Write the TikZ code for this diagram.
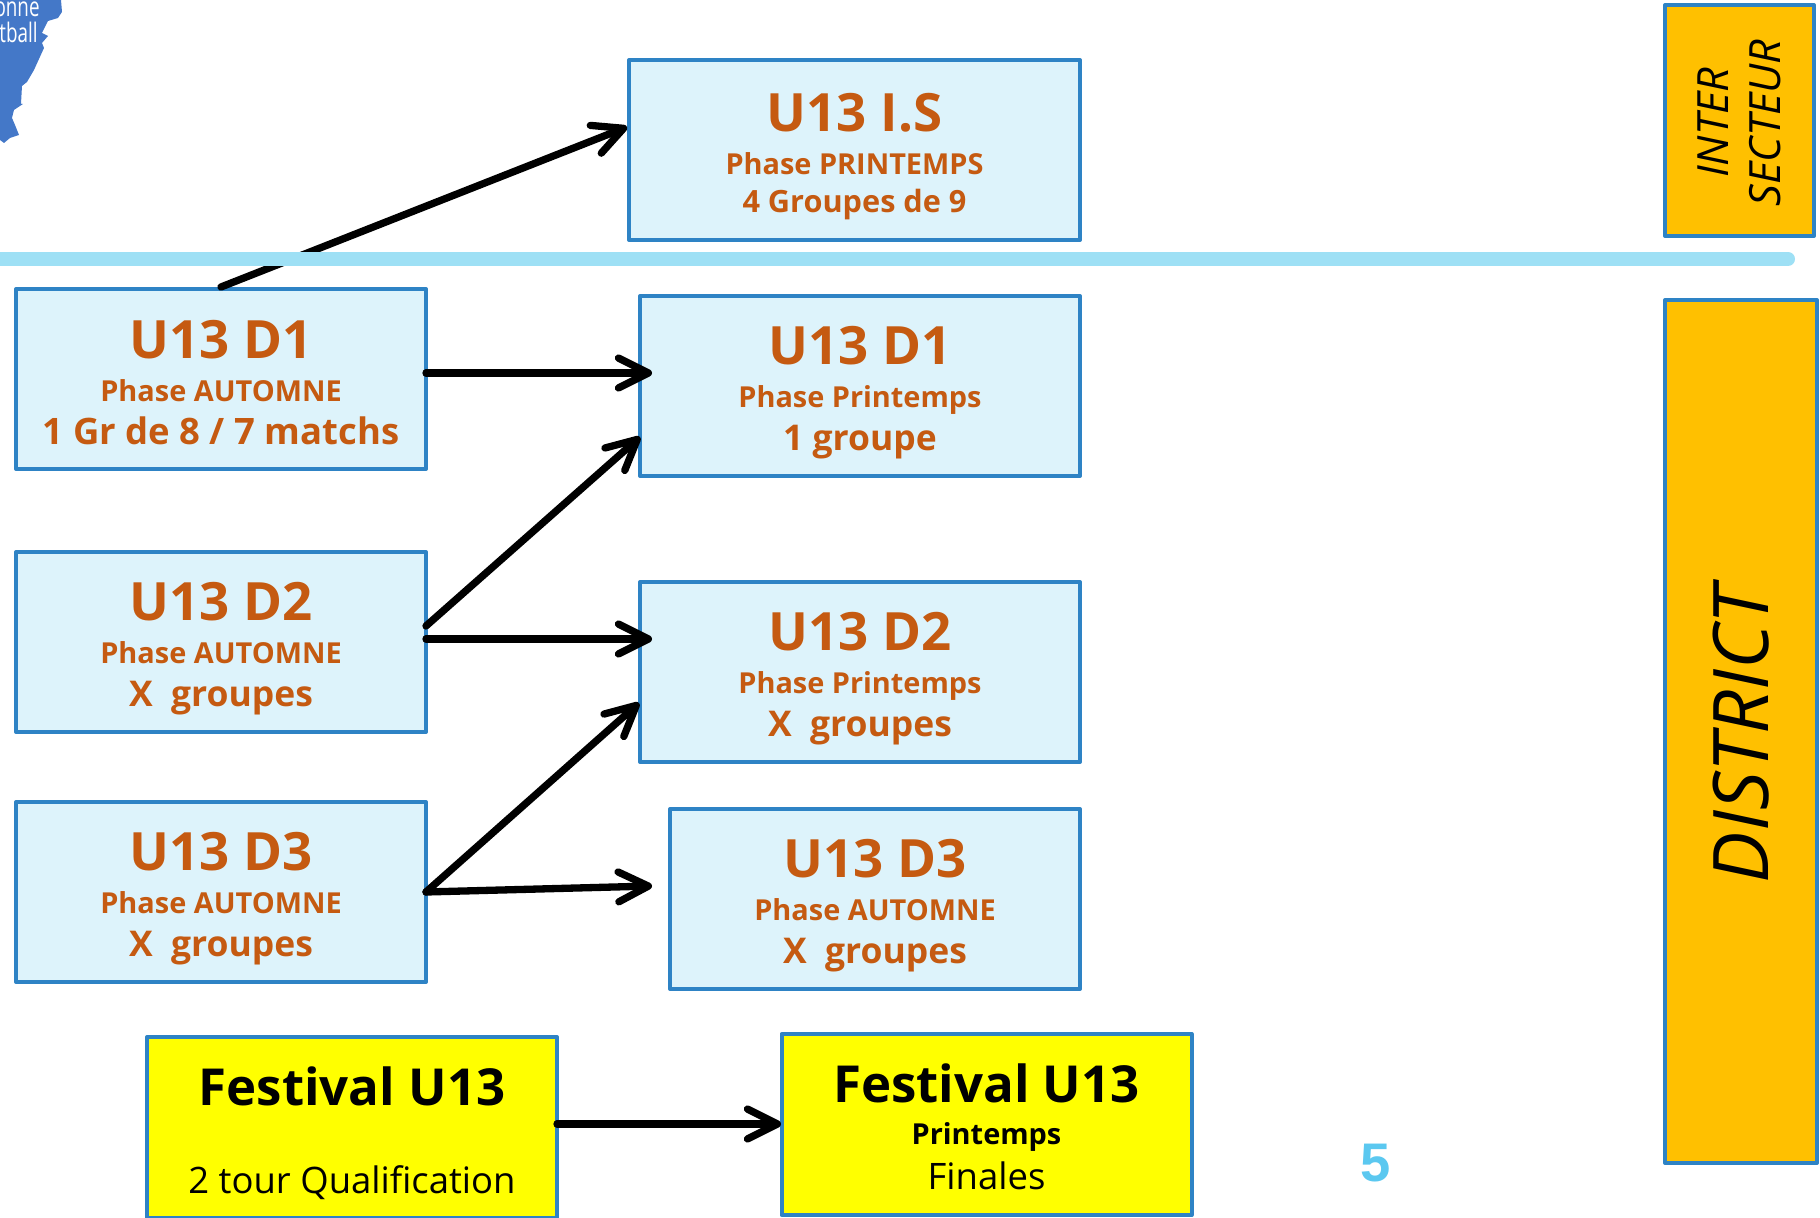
\documentclass[tikz,border=0pt]{standalone}
\usepackage{fontspec}
\setmainfont{Open Sans}
\newfontfamily\numfont{Liberation Sans}
\newfontfamily\logofont[FakeStretch=0.7]{Open Sans}
\usepackage{tikz}
\usetikzlibrary{arrows.meta}

\definecolor{cadre}{HTML}{2E83C5}
\definecolor{fondbleu}{HTML}{DDF3FB}
\definecolor{rouille}{HTML}{C55A11}
\definecolor{ambre}{HTML}{FFC000}
\definecolor{jaune}{HTML}{FFFF00}
\definecolor{barre}{HTML}{9EE0F5}
\definecolor{logobleu}{HTML}{4478C8}
\definecolor{chiffre}{HTML}{5BC8F0}

\newcommand{\grandtitre}[2][26]{\rule{0pt}{#1pt}{\fontsize{26.5}{26.5}\selectfont\bfseries #2}}
\newcommand{\festtitre}[2][25.3]{\rule{0pt}{#1pt}{\fontsize{25.6}{25.6}\selectfont\bfseries #2}}
\newcommand{\petitligne}[1]{{\fontsize{14.5}{14.5}\selectfont\bfseries #1}}
\newcommand{\grandligne}[1]{{\fontsize{17.8}{17.8}\selectfont\bfseries #1}}
\newcommand{\fineligne}[1]{{\fontsize{18.3}{18.3}\selectfont #1}}

\begin{document}
\begin{tikzpicture}[x=0.5bp,y=-0.5bp]
        \tikzstyle{u13box}=[
            draw=cadre,
            line width=2bp,
            line join=round,
            fill=fondbleu,
            text=rouille,
            align=center,
            inner sep=0pt,
            font=\fontsize{14.6}{21.6}\selectfont
        ]
        \tikzstyle{festbox}=[
            u13box,
            fill=jaune,
            text=black
        ]
        \tikzstyle{zonebox}=[
            u13box,
            fill=ambre,
            text=black,
            font=\fontsize{21.6}{26.1}\selectfont\itshape
        ]
        \tikzstyle{fleche}=[
            -{Straight Barb[length=15pt,width=15pt,round]},
            line width=3.65bp,
            line cap=round,
            black
        ]

        \useasboundingbox (0,0) rectangle (1820,1218);

        % logo
        \fill[logobleu] (0,0) -- (61,0) -- (62,12) -- (58,18) -- (48,21) -- (42,33) -- (48,36) -- (42,43) -- (44,48) -- (34,70) -- (27,82) -- (22,86) -- (21,104) -- (23,104) -- (14,110) -- (12,118) -- (15,125) -- (19,135) -- (10,138) -- (4,143) -- (0,140) -- cycle;
        \node[text=white, anchor=base east, inner sep=0pt] (logoa) at (40,17) {\logofont\fontsize{13.5}{13.5}\selectfont onne};
        \node[text=white, anchor=base east, inner sep=0pt] (logob) at (38,43) {\logofont\fontsize{13.5}{13.5}\selectfont tball};

        \node[u13box, minimum width=451*0.5bp, minimum height=180*0.5bp] (is) at (854.5,150){\grandtitre{U13 I.S}\\\petitligne{Phase PRINTEMPS}\\[-2.5pt]{\fontsize{15.4}{15.4}\selectfont\bfseries 4 Groupes de 9}};

        \node[u13box, minimum width=410*0.5bp, minimum height=180*0.5bp] (da) at (221,379){\grandtitre[22.5]{U13 D1}\\\petitligne{Phase AUTOMNE}\\{\fontsize{18.3}{18.3}\selectfont\bfseries 1 Gr de 8 / 7 matchs}};
        \node[u13box, minimum width=410*0.5bp, minimum height=180*0.5bp] (db) at (221,642){\grandtitre{U13 D2}\\\petitligne{Phase AUTOMNE}\\\grandligne{X~~groupes}};
        \node[u13box, minimum width=410*0.5bp, minimum height=180*0.5bp] (dc) at (221,892){\grandtitre{U13 D3}\\\petitligne{Phase AUTOMNE}\\\grandligne{X~~groupes}};

        \node[u13box, minimum width=440*0.5bp, minimum height=180*0.5bp] (pa) at (860,386){\grandtitre{U13 D1}\\\petitligne{Phase Printemps}\\\grandligne{1 groupe}};
        \node[u13box, minimum width=440*0.5bp, minimum height=180*0.5bp] (pb) at (860,672){\grandtitre{U13 D2}\\\petitligne{Phase Printemps}\\\grandligne{X~~groupes}};
        \node[u13box, minimum width=410*0.5bp, minimum height=180*0.5bp] (pc) at (875,899){\grandtitre{U13 D3}\\\petitligne{Phase AUTOMNE}\\\grandligne{X~~groupes}};

        \node[festbox, minimum width=410*0.5bp, minimum height=181*0.5bp] (fa) at (352,1127.5){\festtitre{Festival U13}\\[22.2pt]\fineligne{2 tour Qualification}};
        \node[festbox, minimum width=410*0.5bp, minimum height=181*0.5bp] (fb) at (986.5,1124.5){\festtitre[21.8]{Festival U13}\\[-0.3pt]\petitligne{Printemps}\\[0.9pt]\fineligne{Finales}};

        \node[zonebox, minimum width=231*0.5bp, minimum height=149*0.5bp, rotate=90] (inter) at (1739.5,120.5){INTER\hspace*{2.3bp}\\SECTEUR\hspace*{2.3bp}};
        \node[zonebox, minimum width=863*0.5bp, minimum height=152*0.5bp, rotate=90] (district) at (1741,731.5){\fontsize{38.5}{38.5}\selectfont DISTRICT\hspace*{3bp}};

        \node[text=chiffre, inner sep=0pt] (num) at (1376,1163){\numfont\fontsize{27.3}{27.3}\selectfont\bfseries 5};

        \coordinate (isin) at (627,127);
        \coordinate (daout) at (426,373);
        \coordinate (dain) at (652,373);
        \coordinate (dbhaut) at (426,626);
        \coordinate (dbout) at (426,639);
        \coordinate (paentree) at (640,437);
        \coordinate (dbin) at (652,639);
        \coordinate (dcout) at (426,892);
        \coordinate (pbentree) at (639,703);
        \coordinate (pcin) at (652,886);
        \coordinate (faout) at (557,1124);
        \coordinate (fbin) at (781,1124);

        \draw[fleche] (da.north) -- (isin);
        \draw[fleche] (daout) -- (dain);
        \draw[fleche] (dbhaut) -- (paentree);
        \draw[fleche] (dbout) -- (dbin);
        \draw[fleche] (dcout) -- (pbentree);
        \draw[fleche] (dcout) -- (pcin);
        \draw[fleche] (faout) -- (fbin);

        % barre apres la fleche
        \draw[barre, line width=7bp, line cap=round] (-10,259) -- (1788,259);
\end{tikzpicture}
\end{document}
